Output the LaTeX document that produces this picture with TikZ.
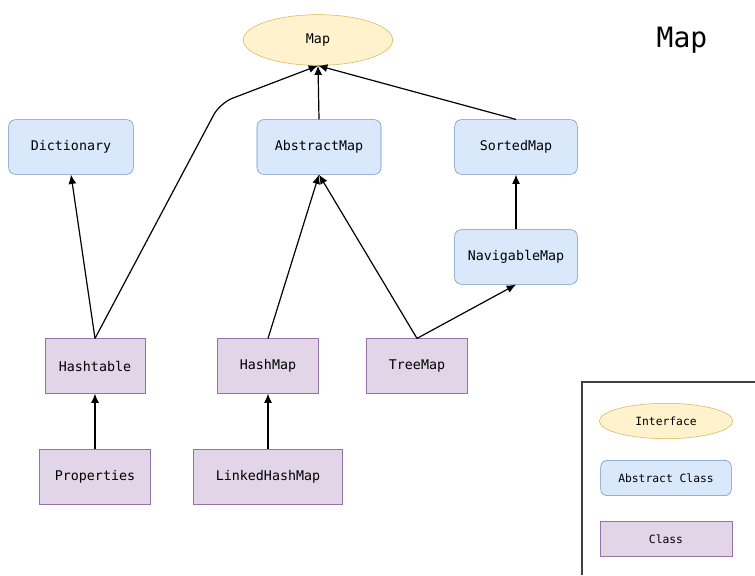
\documentclass[tikz,border=0pt]{standalone}
\usepackage{fontspec}
\setmonofont{DejaVu Sans Mono}
\usetikzlibrary{shapes,arrows.meta,positioning}
\definecolor{ifill}{HTML}{FFF2CC}
\definecolor{idraw}{HTML}{D6B656}
\definecolor{afill}{HTML}{DAE8FC}
\definecolor{adraw}{HTML}{6C8EBF}
\definecolor{cfill}{HTML}{E1D5E7}
\definecolor{cdraw}{HTML}{9673A6}
\tikzset{
iface/.style = {draw=idraw, fill=ifill, ellipse, inner sep=0pt, font=\ttfamily\fontsize{10}{12}\selectfont},
absclass/.style = {draw=adraw, fill=afill, rectangle, rounded corners=5pt, inner sep=0pt, minimum height=41pt, font=\ttfamily\fontsize{10}{12}\selectfont},
cls/.style = {draw=cdraw, fill=cfill, rectangle, inner sep=0pt, minimum height=41pt, font=\ttfamily\fontsize{10}{12}\selectfont},
legendtext/.style = {font=\ttfamily\fontsize{8.5}{10}\selectfont, minimum height=26.5pt},
inherit/.style = {->, line width=0.9pt}
}

\begin{document}
\begin{tikzpicture}[x=0.75pt, y=-0.75pt, >={Latex[length=7pt,width=6pt]}]
  \useasboundingbox (0,0) rectangle (755,575);
  % interface and title
  \node [iface, minimum width=112pt, minimum height=38pt] (map) at (318,40) {Map};
  \node [font=\ttfamily\fontsize{21}{24}\selectfont] (title) at (682,40) {Map};
  % abstract classes
  \node [absclass, minimum width=93.5pt] (dict) at (71,147) {Dictionary};
  \node [absclass, minimum width=93pt] (amap) at (319,147) {AbstractMap};
  \node [absclass, minimum width=92pt] (smap) at (516,147) {SortedMap};
  \node [absclass, minimum width=92pt] (nmap) at (516,257) {NavigableMap};
  % classes
  \node [cls, minimum width=75pt] (htable) at (95,366) {Hashtable};
  \node [cls, minimum width=75.5pt] (hmap) at (268,366) {HashMap};
  \node [cls, minimum width=75.5pt] (tmap) at (417,366) {TreeMap};
  \node [cls, minimum width=83pt] (props) at (95,477) {Properties};
  \node [cls, minimum width=111.5pt] (lhmap) at (268,477) {LinkedHashMap};
  % links
  \draw [inherit] (htable.north) -- (dict.south);
  \draw [inherit, rounded corners=10pt] (htable.north) -- (220,103) -- (map.south);
  \draw [inherit] (amap.north) -- (map.south);
  \draw [inherit] (smap.north) -- (map.south);
  \draw [inherit] (nmap.north) -- (smap.south);
  \draw [inherit] (hmap.north) -- (amap.south);
  \draw [inherit] (tmap.north) -- (amap.south);
  \draw [inherit] (tmap.north) -- (nmap.south);
  \draw [inherit] (props.north) -- (htable.south);
  \draw [inherit] (lhmap.north) -- (hmap.south);
  % legend
  \coordinate (lgbot) at (582,575);
  \coordinate (lgcorner) at (582,382);
  \coordinate (lgright) at (755,382);
  \draw [black!75, line width=0.8pt] (lgbot) -- (lgcorner) -- (lgright);
  \node [iface, legendtext, minimum width=100pt] (lgiface) at (666,421) {Interface};
  \node [absclass, legendtext, minimum width=98pt] (lgabs) at (666,478) {Abstract Class};
  \node [cls, legendtext, minimum width=99pt] (lgcls) at (666,539) {Class};
\end{tikzpicture}
\end{document}
